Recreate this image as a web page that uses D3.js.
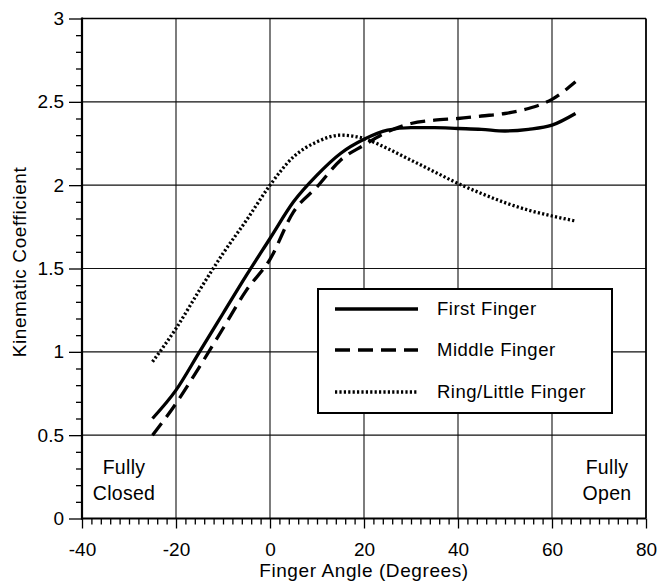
<!DOCTYPE html>
<html><head><meta charset="utf-8">
<script src="https://cdn.jsdelivr.net/npm/d3@7"></script>
<style>
body{margin:0;background:#fff}
text{font-family:"Liberation Sans",Arial,Helvetica,sans-serif;fill:#000}
</style>
</head><body>
<svg id="chart" width="661" height="583"></svg>
<script>
const angles = [-25,-20,-15,-10,-5,0,5,10,15,20,25,30,35,40,45,50,55,60,65];
const firstFinger = [0.60,0.77,1.00,1.23,1.46,1.68,1.90,2.06,2.19,2.275,2.33,2.345,2.345,2.34,2.335,2.325,2.335,2.36,2.43];
const middleFinger = [0.50,0.69,0.91,1.14,1.37,1.555,1.84,1.99,2.15,2.24,2.32,2.37,2.39,2.40,2.415,2.43,2.46,2.515,2.62];
const ringLittleFinger = [0.94,1.14,1.37,1.59,1.79,2.00,2.17,2.26,2.30,2.28,2.22,2.15,2.08,2.01,1.95,1.895,1.85,1.815,1.785];
const seriesNames = ["First Finger","Middle Finger","Ring/Little Finger"];
const xTicks = [-40,-20,0,20,40,60,80];
const yTicks = [0,0.5,1,1.5,2,2.5,3];
const xTitle = "Finger Angle (Degrees)";
const yTitle = "Kinematic Coefficient";

const svg = d3.select("#chart");
const L = 82, R = 646, T = 18.5, B = 518.5;
const x = d3.scaleLinear().domain([-40,80]).range([L,R]);
const y = d3.scaleLinear().domain([0,3]).range([B,T]);

// grid
const grid = svg.append("g").attr("stroke","#111").attr("stroke-width",1.1);
grid.selectAll(".gx").data(xTicks.slice(1,-1)).join("line")
  .attr("x1",d=>x(d)).attr("x2",d=>x(d)).attr("y1",T).attr("y2",B);
grid.selectAll(".gy").data(yTicks.slice(1,-1)).join("line")
  .attr("y1",d=>y(d)).attr("y2",d=>y(d)).attr("x1",L).attr("x2",R);

// minor ticks
const xMinor = x.ticks(60).filter(v=>!xTicks.includes(v));
const yMinor = y.ticks(30).filter(v=>!yTicks.some(t=>Math.abs(t-v)<1e-9));
const ax = svg.append("g").attr("transform",`translate(0,${B})`);
ax.call(d3.axisBottom(x).tickValues(xMinor).tickSize(6).tickFormat(""));
ax.call(g=>g.select(".domain").remove());
const axM = svg.append("g").attr("transform",`translate(0,${B})`)
  .call(d3.axisBottom(x).tickValues(xTicks).tickSize(10).tickPadding(14).tickFormat(d=>String(d)));
axM.select(".domain").remove();
const ay = svg.append("g").attr("transform",`translate(${L},0)`);
ay.call(d3.axisLeft(y).tickValues(yMinor).tickSize(6).tickFormat(""));
ay.call(g=>g.select(".domain").remove());
const ayM = svg.append("g").attr("transform",`translate(${L},0)`)
  .call(d3.axisLeft(y).tickValues(yTicks).tickSize(13).tickPadding(5).tickFormat(d=>String(d)));
ayM.select(".domain").remove();
svg.selectAll(".tick line").attr("stroke","#000").attr("stroke-width",1.3);
svg.selectAll(".tick text").attr("font-size",19).attr("font-family","Liberation Sans, Arial, sans-serif").attr("fill","#000");
axM.selectAll(".tick text").attr("dy","0.71em");

// frame
svg.append("line").attr("x1",L).attr("x2",R).attr("y1",T).attr("y2",T).attr("stroke","#000").attr("stroke-width",1.5);
svg.append("line").attr("x1",R).attr("x2",R).attr("y1",T).attr("y2",B).attr("stroke","#000").attr("stroke-width",1.8);
svg.append("line").attr("x1",L).attr("x2",L).attr("y1",T-1).attr("y2",B+1).attr("stroke","#000").attr("stroke-width",2.2);
svg.append("line").attr("x1",L-1).attr("x2",R).attr("y1",B).attr("y2",B).attr("stroke","#000").attr("stroke-width",2.2);

// series
const series = [
  {name:seriesNames[0], values:firstFinger, dash:null},
  {name:seriesNames[1], values:middleFinger, dash:"15,8"},
  {name:seriesNames[2], values:ringLittleFinger, dash:"2.2,2.2"}
];
const line = d3.line().x((d,i)=>x(angles[i])).y(d=>y(d)).curve(d3.curveMonotoneX);
svg.append("g").selectAll("path").data(series).join("path")
  .attr("d",d=>line(d.values)).attr("fill","none").attr("stroke","#000")
  .attr("stroke-width",3.3).attr("stroke-dasharray",d=>d.dash);

// legend
const lg = svg.append("g");
lg.append("rect").attr("x",318).attr("y",289).attr("width",294).attr("height",124)
  .attr("fill","#fff").attr("stroke","#000").attr("stroke-width",2);
const rows = [309,350,392];
series.forEach((s,i)=>{
  lg.append("line").attr("x1",335).attr("x2",418).attr("y1",rows[i]).attr("y2",rows[i])
    .attr("stroke","#000").attr("stroke-width",3.3).attr("stroke-dasharray",s.dash);
  lg.append("text").attr("x",437).attr("y",rows[i]).attr("dy","0.35em")
    .attr("font-size",18.5).attr("letter-spacing","0.5px").text(s.name);
});

// annotations
const ann = svg.append("g").attr("font-size",19.5).attr("text-anchor","middle").attr("letter-spacing","0.3px");
ann.append("text").attr("x",124).attr("y",474).text("Fully");
ann.append("text").attr("x",124).attr("y",500).text("Closed");
ann.append("text").attr("x",607).attr("y",474).text("Fully");
ann.append("text").attr("x",607).attr("y",500).text("Open");

// axis titles
svg.append("text").attr("x",(L+R)/2).attr("y",577).attr("text-anchor","middle")
  .attr("font-size",19).attr("letter-spacing","0.6px").text(xTitle);
svg.append("text").attr("transform","translate(25.5,262) rotate(-90)").attr("text-anchor","middle")
  .attr("font-size",19).attr("letter-spacing","0.6px").text(yTitle);
</script>
</body></html>
